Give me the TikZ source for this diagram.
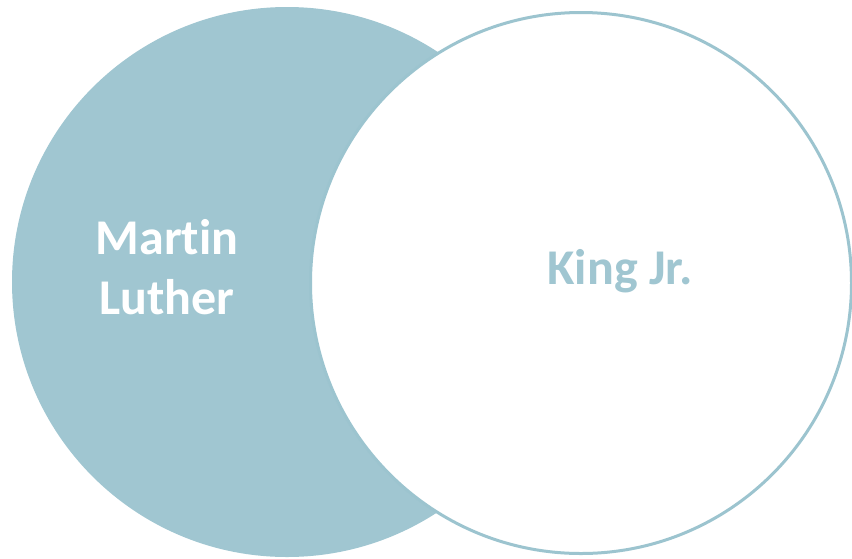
\documentclass[tikz,border=0pt]{standalone}
\usepackage{fontspec}
\setmainfont[Ligatures=NoCommon]{Carlito}
\usepackage{xcolor}
\usepackage{tikz}
\usetikzlibrary{positioning}
\definecolor{vnFill}{HTML}{A0C6D1}
\definecolor{vnLine}{HTML}{9CC4CF}
\tikzset{
  vnset/.style={circle, inner sep=0pt, outer sep=0pt},
  leftset/.style={vnset, fill=vnFill, draw=none, minimum size=550pt},
  rightset/.style={vnset, fill=white, draw=vnLine, line width=3pt, minimum size=541pt},
  vnlabel/.style={font=\fontsize{50}{60}\selectfont\bfseries, align=center}
}

\begin{document}
\begin{tikzpicture}[x=1pt, y=-1pt]
  \useasboundingbox (0,0) rectangle (852,558);
  \node[leftset] (martin) at (287,282) {};
  \node[rightset] (king) at (581,283) {};
  \node[vnlabel, text=white] (martinlbl) at (167,267) {Martin\\Luther};
  \node[vnlabel, text=vnFill] (kinglbl) at (620,271) {King Jr.};
\end{tikzpicture}
\end{document}
